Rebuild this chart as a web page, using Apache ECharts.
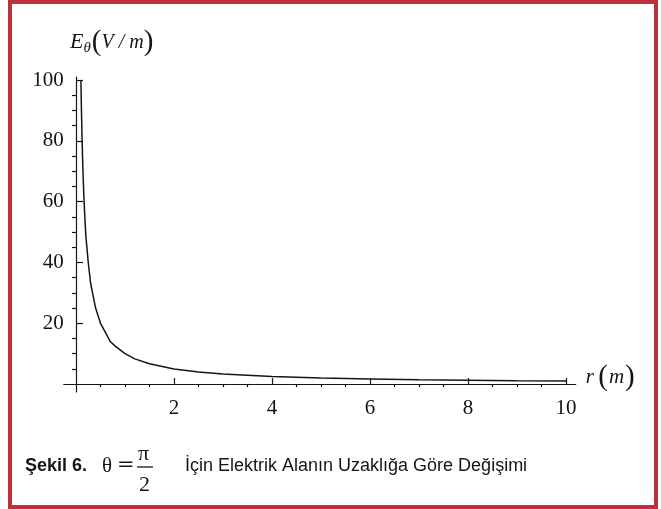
<!DOCTYPE html>
<html>
<head>
<meta charset="utf-8">
<script src="https://cdn.jsdelivr.net/npm/echarts@6/dist/echarts.min.js"></script>
<style>
  html, body { margin: 0; padding: 0; background: #ffffff; }
  #chart { width: 661px; height: 509px; }
</style>
</head>
<body>
<div id="chart"></div>
<script>
// Values: E_theta (V/m) versus r (m)
var rValues = [0.1, 0.11, 0.125, 0.14, 0.16, 0.18, 0.2, 0.25, 0.3, 0.35, 0.4, 0.5, 0.6, 0.7, 0.8, 1.0, 1.2, 1.5, 2, 2.5, 3, 3.5, 4, 5, 6, 7, 8, 9, 10];
var eValues = [100, 91, 80, 71, 62, 55, 49, 40, 33, 29, 25, 20, 17, 14, 12.5, 10, 8.3, 6.7, 5, 4, 3.3, 2.9, 2.5, 2, 1.7, 1.4, 1.25, 1.1, 1];

var xMajorTicks = [2, 4, 6, 8, 10];
var xMinorTicks = [0.5, 1, 1.5, 2.5, 3, 3.5, 4.5, 5, 5.5, 6.5, 7, 7.5, 8.5, 9, 9.5];
var yMajorTicks = [20, 40, 60, 80, 100];
var yMinorTicks = [5, 10, 15, 25, 30, 35, 45, 50, 55, 65, 70, 75, 85, 90, 95];

var captionLabel = 'Şekil 6.';
var captionText = 'İçin Elektrik Alanın Uzaklığa Göre Değişimi';

var seriesData = rValues.map(function (r, i) { return [r, eValues[i]]; });

var ink = '#151515';
var serif = '"Liberation Serif", "DejaVu Serif", serif';
var sans = '"Liberation Sans", Arial, sans-serif';

var chart = echarts.init(document.getElementById('chart'), null, { renderer: 'canvas' });

var xMin = -0.25, xMax = 10.2, yMin = -2.6, yMax = 101;

chart.setOption({
  backgroundColor: '#ffffff',
  animation: false,
  grid: { left: 63.75, top: 77, width: 512, height: 315, containLabel: false },
  xAxis: [
    {
      type: 'value', min: xMin, max: xMax,
      name: '{i|r} {p|(}{i|m}{p|)}',
      nameLocation: 'end', nameGap: 10,
      nameTextStyle: {
        padding: [0, 0, 14, 0],
        rich: {
          i: { fontFamily: serif, fontStyle: 'italic', fontSize: 21, color: ink },
          p: { fontFamily: serif, fontSize: 29, color: ink, padding: [0, 1, 0, 1] }
        }
      },
      axisLine: { show: true, onZero: true, onZeroAxisIndex: 0, lineStyle: { color: ink, width: 1.2 } },
      axisTick: { show: true, inside: true, length: 6, customValues: xMajorTicks, lineStyle: { color: ink, width: 1.2 } },
      axisLabel: { show: true, customValues: xMajorTicks, margin: 6, fontFamily: serif, fontSize: 21, color: ink },
      splitLine: { show: false }
    },
    {
      type: 'value', min: xMin, max: xMax,
      axisLine: { show: false, onZero: true, onZeroAxisIndex: 0 },
      axisTick: { show: true, inside: true, length: 3, customValues: xMinorTicks, lineStyle: { color: ink, width: 1.2 } },
      axisLabel: { show: false },
      splitLine: { show: false }
    }
  ],
  yAxis: [
    {
      type: 'value', min: yMin, max: yMax,
      name: '{e|E}{s|θ}{p|(}{t|V / m}{p|)}',
      nameLocation: 'end', nameGap: 20,
      nameTextStyle: {
        align: 'left',
        padding: [0, 0, 0, -6],
        rich: {
          e: { fontFamily: serif, fontStyle: 'italic', fontSize: 22, color: ink },
          s: { fontFamily: serif, fontStyle: 'italic', fontSize: 15, color: ink, padding: [12, 1, 0, 0] },
          p: { fontFamily: serif, fontSize: 29, color: ink },
          t: { fontFamily: serif, fontStyle: 'italic', fontSize: 20, color: ink }
        }
      },
      axisLine: { show: true, onZero: true, onZeroAxisIndex: 0, lineStyle: { color: ink, width: 1.2 } },
      axisTick: { show: true, inside: true, length: 7, customValues: yMajorTicks, lineStyle: { color: ink, width: 1.2 } },
      axisLabel: { show: true, customValues: yMajorTicks, margin: 0, fontFamily: serif, fontSize: 21, color: ink },
      splitLine: { show: false }
    },
    {
      type: 'value', min: yMin, max: yMax,
      axisLine: { show: false, onZero: true, onZeroAxisIndex: 0 },
      axisTick: { show: true, inside: true, length: 4, customValues: yMinorTicks, lineStyle: { color: ink, width: 1.2 } },
      axisLabel: { show: false },
      splitLine: { show: false }
    }
  ],
  series: [
    {
      type: 'line',
      xAxisIndex: 0, yAxisIndex: 0,
      data: seriesData,
      showSymbol: false,
      smooth: false,
      lineStyle: { color: ink, width: 1.5 },
      itemStyle: { color: ink }
    }
  ],
  graphic: [
    { type: 'rect', shape: { x: 10, y: 2, width: 646, height: 505 }, style: { fill: 'none', stroke: '#c0303c', lineWidth: 4 }, silent: true },
    { type: 'text', left: 25, top: 457, style: { text: captionLabel, font: 'bold 18px ' + sans, fill: ink } },
    { type: 'text', left: 102, top: 456, style: { text: 'θ', font: '21px ' + serif, fill: ink } },
    { type: 'text', left: 117, top: 455, style: { text: '=', font: '21px "DejaVu Serif", serif', fill: ink } },
    { type: 'text', left: 138, top: 443, style: { text: 'π', font: '22px ' + serif, fill: ink } },
    { type: 'line', shape: { x1: 137, y1: 467, x2: 153, y2: 467 }, style: { stroke: ink, lineWidth: 1.3 } },
    { type: 'text', left: 139, top: 474, style: { text: '2', font: '22px ' + serif, fill: ink } },
    { type: 'text', left: 185, top: 457, style: { text: captionText, font: '18px ' + sans, fill: ink } }
  ]
});
</script>
</body>
</html>
